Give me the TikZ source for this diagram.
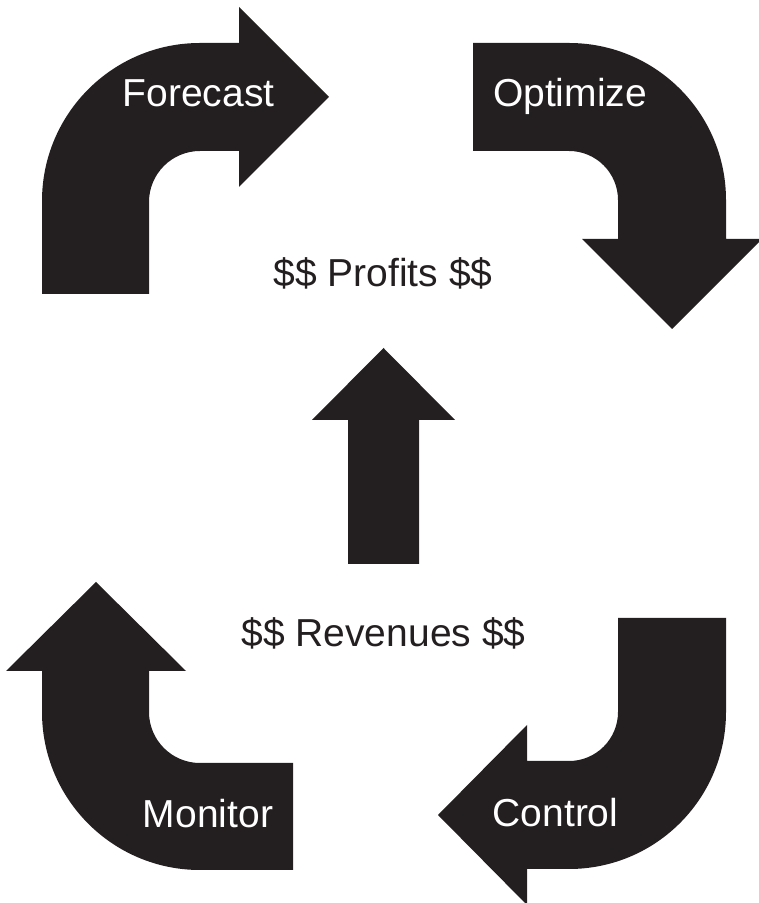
\documentclass[tikz,border=0pt]{standalone}
\usepackage{fontspec}
\setmainfont{Liberation Sans}
\definecolor{arrowblack}{HTML}{231F20}
\tikzset{
  bigarrow/.style={fill=arrowblack,draw=none},
  steplabel/.style={text=white,font=\fontsize{39}{47}\selectfont,anchor=base,inner sep=0pt},
  moneylabel/.style={text=arrowblack,font=\fontsize{39}{47}\selectfont,anchor=base,inner sep=0pt}
}
\begin{document}
\begin{tikzpicture}[x=1pt,y=1pt]
      \useasboundingbox (0,0) rectangle (759,903);

      \fill[bigarrow] (42,609) -- (42,702) arc[start angle=180,end angle=90,radius=158]
        -- (239,860) -- (239,896) -- (329,806) -- (239,716) -- (239,752) -- (200,752)
        arc[start angle=90,end angle=180,radius=51] -- (149,609) -- cycle;

      \fill[bigarrow] (473,860) -- (569,860) arc[start angle=90,end angle=0,radius=157]
        -- (726,664) -- (762,664) -- (672,574) -- (582,664) -- (618,664) -- (618,703)
        arc[start angle=0,end angle=90,radius=49] -- (473,752) -- cycle;

      \fill[bigarrow] (726,285) -- (726,191) arc[start angle=0,end angle=-90,radius=157]
        -- (527,34) -- (527,-2) -- (438,88) -- (527,178) -- (527,142) -- (569,142)
        arc[start angle=-90,end angle=0,radius=49] -- (618,285) -- cycle;

      \fill[bigarrow] (293,33) -- (200,33) arc[start angle=270,end angle=180,radius=158]
        -- (42,232) -- (6,232) -- (96,321) -- (186,232) -- (149,232) -- (149,191)
        arc[start angle=180,end angle=270,radius=51] -- (293,140) -- cycle;

      \fill[bigarrow] (348,339) -- (348,483) -- (312,483) -- (383.5,555)
        -- (455,483) -- (419,483) -- (419,339) -- cycle;

      \foreach \x/\y/\name/\txt in {198.5/796/forecast/Forecast,570/796/optimize/Optimize,
                                    555.5/76/control/Control,208/75/monitor/Monitor}
        \node[steplabel] (\name) at (\x,\y) {\txt};

      \node[moneylabel] (profits) at (383,616) {\$\$ Profits \$\$};
      \node[moneylabel] (revenues) at (383.5,256) {\$\$ Revenues \$\$};
    \end{tikzpicture}
\end{document}
